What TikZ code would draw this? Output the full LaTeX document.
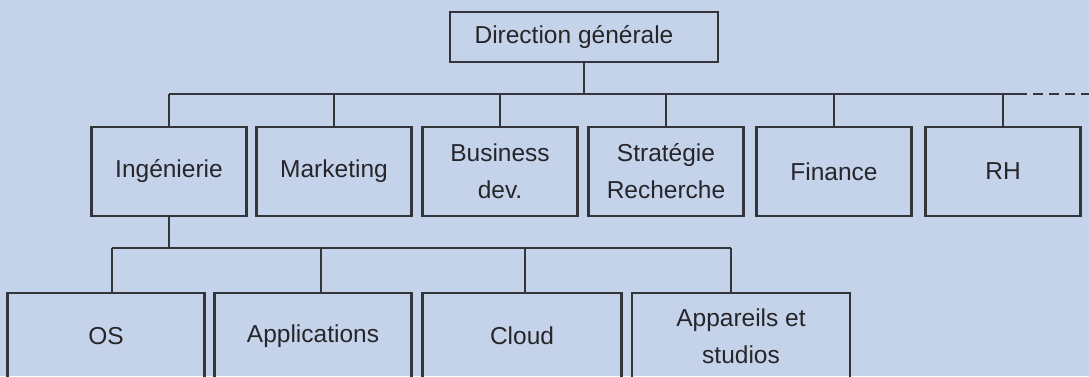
\documentclass[tikz,border=0pt]{standalone}
\usepackage{fontspec}
\setmainfont{Liberation Sans}

\definecolor{fondOrg}{RGB}{197,211,234}
\definecolor{traitOrg}{RGB}{52,53,58}
\definecolor{texteOrg}{RGB}{38,38,42}

\begin{document}
\begin{tikzpicture}[x=1pt,y=-1pt,
  boite/.style={draw=traitOrg, line width=2.2pt, text=texteOrg, align=center,
    inner sep=0pt, font=\fontsize{24.5}{37}\selectfont},
  lien/.style={draw=traitOrg, line width=2.2pt}]
  % Paramètres
  \def\largeur{1089} % largeur de l'image
  \def\hauteur{376} % hauteur de l'image
  \def\ligneDeux{171.5} % centre des services
  \def\ligneTrois{336} % centre des équipes d'ingénierie

  % Fond et cadre
  \fill[fondOrg] (0,0) rectangle (\largeur,\hauteur);
  \useasboundingbox (0,0) rectangle (\largeur,\hauteur);
  \clip (0,0) rectangle (\largeur,\hauteur);

  % Direction
  \node[boite, minimum width=268, minimum height=50] (dg) at (584,37) {Direction générale\hspace*{20pt}};

  % Services
  \foreach \nom/\cx/\texte in {ing/169/Ingénierie, mkt/334/Marketing,
      biz/500/Business\\dev., strat/666/Stratégie\\Recherche,
      fin/834/Finance, rh/1003/RH}
  {
    \node[boite, minimum width=155, minimum height=89] (\nom) at (\cx,\ligneDeux) {\texte};
  }

  % Équipes d'ingénierie
  \foreach \nom/\cx/\lg/\texte in {os/106/197/OS, app/313/197/Applications,
      cloud/522/199/Cloud, appar/741/218/Appareils et\\studios}
  {
    \node[boite, minimum width=\lg, minimum height=86] (\nom) at (\cx,\ligneTrois) {\texte};
  }

  % Liaisons du premier niveau
  \coordinate (busHaut) at (584,94);
  \coordinate (finBus) at ([xshift=14]rh.north |- busHaut);
  \coordinate (bordDroit) at (\largeur,94);
  \draw[lien] (dg.south) -- (busHaut);
  \draw[lien] (ing.north |- busHaut) -- (finBus);
  \draw[traitOrg, line width=2.2pt, dash pattern=on 10pt off 6pt] (finBus) -- (bordDroit);
  \foreach \nom in {ing,mkt,biz,strat,fin,rh}
  {
    \draw[lien] (\nom.north |- busHaut) -- (\nom.north);
  }

  % Liaisons de l'ingénierie
  \coordinate (busBas) at (171,248);
  \draw[lien] (ing.south) -- (ing.south |- busBas);
  \foreach \nom/\dx in {os/6, app/8, cloud/3, appar/-10}
  {
    \coordinate (\nom Haut) at ([xshift=\dx]\nom.north);
    \draw[lien] (\nom Haut |- busBas) -- (\nom Haut);
  }
  \draw[lien] (osHaut |- busBas) -- (apparHaut |- busBas);
\end{tikzpicture}
\end{document}
